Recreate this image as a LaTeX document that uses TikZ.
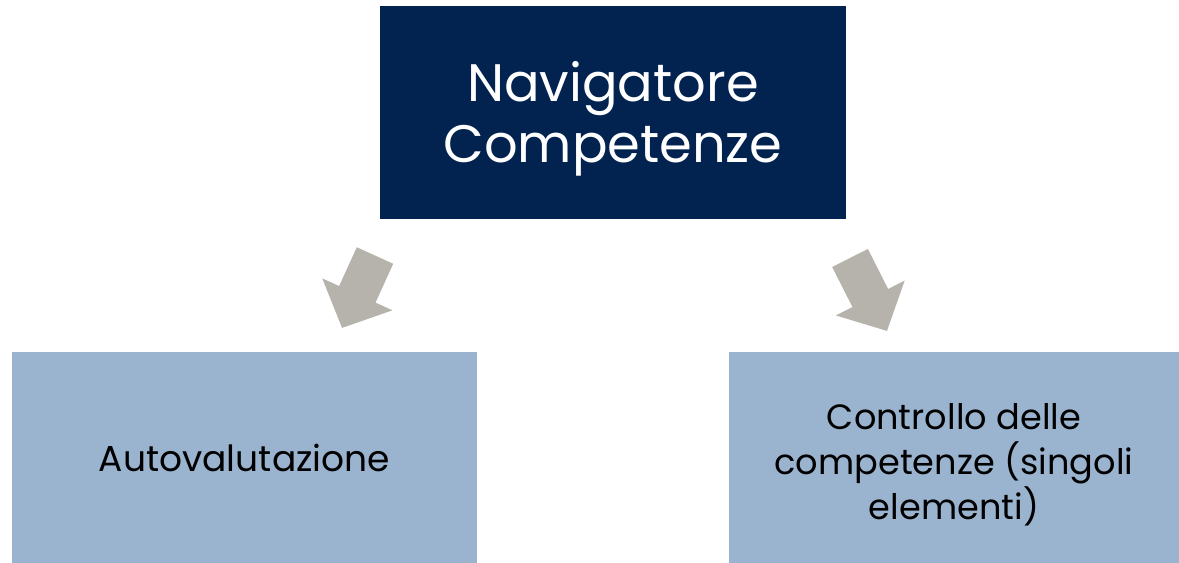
\documentclass[tikz,border=0pt]{standalone}
\usepackage{fontspec}
\setmainfont{Poppins}
\usetikzlibrary{arrows.meta,positioning}
\definecolor{blu}{HTML}{022350}
\definecolor{azzurro}{HTML}{9AB3CF}
\definecolor{grigio}{HTML}{B5B3AB}
\begin{document}
\begin{tikzpicture}[x=0.02cm,y=-0.02cm,line join=round,
	scatola/.style={rectangle,inner sep=0pt},
	testo/.style={inner sep=0pt,align=center},
	freccia/.style={grigio,line width=0.8cm,-{Triangle[length=0.74cm,width=1.5cm]}}]
	\useasboundingbox (0,0) rectangle (1179,563);
	% riquadri
	\node[scatola,fill=blu,minimum width=9.32cm,minimum height=4.26cm] (nav) at (613,112.5) {};
	\node[scatola,fill=azzurro,minimum width=9.3cm,minimum height=4.22cm] (auto) at (244.5,457.5) {};
	\node[scatola,fill=azzurro,minimum width=9cm,minimum height=4.22cm] (contr) at (954,457.5) {};
	% testi
	\node[testo,text=white,font=\fontsize{30}{35}\selectfont] (navt) at ([yshift=-0.13cm]nav.center) {Navigatore\\Competenze};
	\node[testo,font=\fontsize{20.5}{25.5}\selectfont] (autot) at (auto.center) {Autovalutazione};
	\node[testo,font=\fontsize{20}{25.5}\selectfont] (contrt) at ([yshift=-0.15cm]contr.center) {Controllo delle\\competenze (singoli\\elementi)};
	% frecce
	\coordinate (sx1) at (375,255.5);
	\coordinate (sx2) at (342,328);
	\coordinate (dx1) at (850,258);
	\coordinate (dx2) at (887,331);
	\draw[freccia] (sx1) -- (sx2);
	\draw[freccia] (dx1) -- (dx2);
\end{tikzpicture}
\end{document}
